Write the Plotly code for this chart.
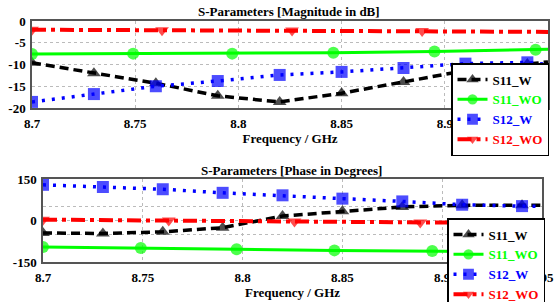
import plotly.graph_objects as go

# ---------------- data ----------------
# Magnitude (dB)
mag_s11w_x = [8.70, 8.73, 8.76, 8.79, 8.82, 8.85, 8.88, 8.91, 8.94, 8.95]
mag_s11w_y = [-9.6, -12.0, -14.3, -17.2, -18.6, -16.6, -14.0, -11.4, -9.9, -9.4]
mag_s11wo_x = [8.70, 8.749, 8.797, 8.846, 8.895, 8.944, 8.95]
mag_s11wo_y = [-7.6, -7.5, -7.5, -7.3, -7.0, -6.6, -6.5]
mag_s12w_x = [8.70, 8.73, 8.76, 8.79, 8.82, 8.85, 8.88, 8.91, 8.94, 8.95]
mag_s12w_y = [-18.6, -16.8, -15.0, -13.8, -12.4, -11.7, -10.8, -9.8, -9.5, -10.0]
mag_s12wo_x = [8.70, 8.763, 8.826, 8.889, 8.95]
mag_s12wo_y = [-2.0, -2.1, -2.2, -2.3, -2.5]

# Phase (degrees)
ph_s11w_x = [8.70, 8.73, 8.76, 8.79, 8.82, 8.85, 8.88, 8.91, 8.94, 8.95]
ph_s11w_y = [-45, -47, -41, -26, 16, 33, 49, 55, 55, 55]
ph_s11wo_x = [8.70, 8.749, 8.797, 8.846, 8.895, 8.944, 8.95]
ph_s11wo_y = [-96, -99, -104, -108, -110, -113, -114]
ph_s12w_x = [8.70, 8.73, 8.76, 8.79, 8.82, 8.85, 8.88, 8.91, 8.94, 8.95]
ph_s12w_y = [129, 121, 113, 100, 91, 79, 69, 57, 52, 51]
ph_s12wo_x = [8.70, 8.763, 8.826, 8.889, 8.95]
ph_s12wo_y = [3, 0, -4, -7, -10]

x_ticks = [8.7, 8.75, 8.8, 8.85, 8.9, 8.95]
x_ticktext = ["8.7", "8.75", "8.8", "8.85", "8.9", "8.95"]
mag_ticks = [-20, -15, -10, -5, 0]
ph_ticks = [-150, -50, 0, 50, 150]
ph_ticktext = ["-150", "", "0", "", "150"]

names = ["S11_W", "S11_WO", "S12_W", "S12_WO"]
colors = ["#000000", "#00ff00", "#0000ff", "#ff0000"]
symbols = ["triangle-up", "circle", "square", "triangle-down"]
dashes = ["9px,5px", "solid", "3px,7px", "14px,5px,4px,5px"]
widths = [3.5, 3, 3.5, 4]

W, H = 557, 302
FONT = "Liberation Serif, Times New Roman, serif"

fig = go.Figure()

def add_series(xs, ys, i, xa, ya, legend):
    sizes = [12] * (len(xs) - 1) + [0]
    fig.add_trace(go.Scatter(
        x=xs, y=ys, mode="lines+markers", xaxis=xa, yaxis=ya, legend=legend,
        name="<b><span style='color:%s'>%s</span></b>" % (colors[i], names[i]),
        line=dict(color=colors[i], width=widths[i], dash=dashes[i]),
        marker=dict(symbol=symbols[i], size=sizes, color=colors[i],
                    line=dict(width=0)),
    ))

mag = [(mag_s11w_x, mag_s11w_y), (mag_s11wo_x, mag_s11wo_y),
       (mag_s12w_x, mag_s12w_y), (mag_s12wo_x, mag_s12wo_y)]
ph = [(ph_s11w_x, ph_s11w_y), (ph_s11wo_x, ph_s11wo_y),
      (ph_s12w_x, ph_s12w_y), (ph_s12wo_x, ph_s12wo_y)]
for i, (xs, ys) in enumerate(mag):
    add_series(xs, ys, i, "x", "y", "legend")
for i, (xs, ys) in enumerate(ph):
    add_series(xs, ys, i, "x2", "y2", "legend2")

tickfont = dict(family=FONT, size=13, color="black", weight="bold")
common_x = dict(range=[8.7, 8.95], tickvals=x_ticks,
                ticktext=["<b>%s</b>" % t for t in x_ticktext],
                showgrid=True, gridcolor="#bbbbbb", griddash="dot", gridwidth=1,
                showline=True, linecolor="#555555", linewidth=1.5, mirror=True,
                ticks="", zeroline=False, tickfont=tickfont, ticklabelstandoff=3,
                title=dict(text="<b>Frequency / GHz</b>",
                           font=dict(family=FONT, size=13, color="black"),
                           standoff=2))
common_y = dict(showgrid=True, gridcolor="#bbbbbb", griddash="dot", gridwidth=1,
                showline=True, linecolor="#555555", linewidth=1.5, mirror=True,
                ticks="", zeroline=False, tickfont=tickfont, ticklabelstandoff=2,
                ticklabeloverflow="allow")

def px(x):
    return x / W

def py(y):
    return 1 - y / H

legend_common = dict(bgcolor="white", bordercolor="black", borderwidth=1.5,
                     font=dict(family=FONT, size=13, color="black"),
                     xanchor="left", yanchor="top", itemwidth=30,
                     tracegroupgap=0)

fig.update_layout(
    width=W, height=H, margin=dict(l=0, r=0, t=0, b=0, autoexpand=False),
    paper_bgcolor="white", plot_bgcolor="white",
    showlegend=True,
    xaxis=dict(common_x, domain=[px(32), px(548)], anchor="y"),
    yaxis=dict(common_y, domain=[py(108), py(21)], range=[-20, 0.001],
               tickvals=mag_ticks, ticktext=["<b>%d</b>" % t for t in mag_ticks],
               anchor="x"),
    xaxis2=dict(common_x, domain=[px(43), px(542)], anchor="y2"),
    yaxis2=dict(common_y, domain=[py(262), py(179)], range=[-150, 150],
                tickvals=ph_ticks,
                ticktext=["<b>%s</b>" % t if t else "" for t in ph_ticktext],
                anchor="x2"),
    legend=dict(legend_common, x=px(451), y=py(63)),
    legend2=dict(legend_common, x=px(447), y=py(218)),
    annotations=[
        dict(text="<b>S-Parameters [Magnitude in dB]</b>", x=px(289), y=py(12),
             xref="paper", yref="paper", showarrow=False, yanchor="middle",
             font=dict(family=FONT, size=13, color="black")),
        dict(text="<b>S-Parameters [Phase in Degrees]</b>", x=px(291), y=py(170),
             xref="paper", yref="paper", showarrow=False, yanchor="middle",
             font=dict(family=FONT, size=13, color="black")),
    ],
)

fig.write_html("out.html", config={"displayModeBar": False},
               post_script="document.body.style.margin='0';document.body.style.overflow='hidden';")
